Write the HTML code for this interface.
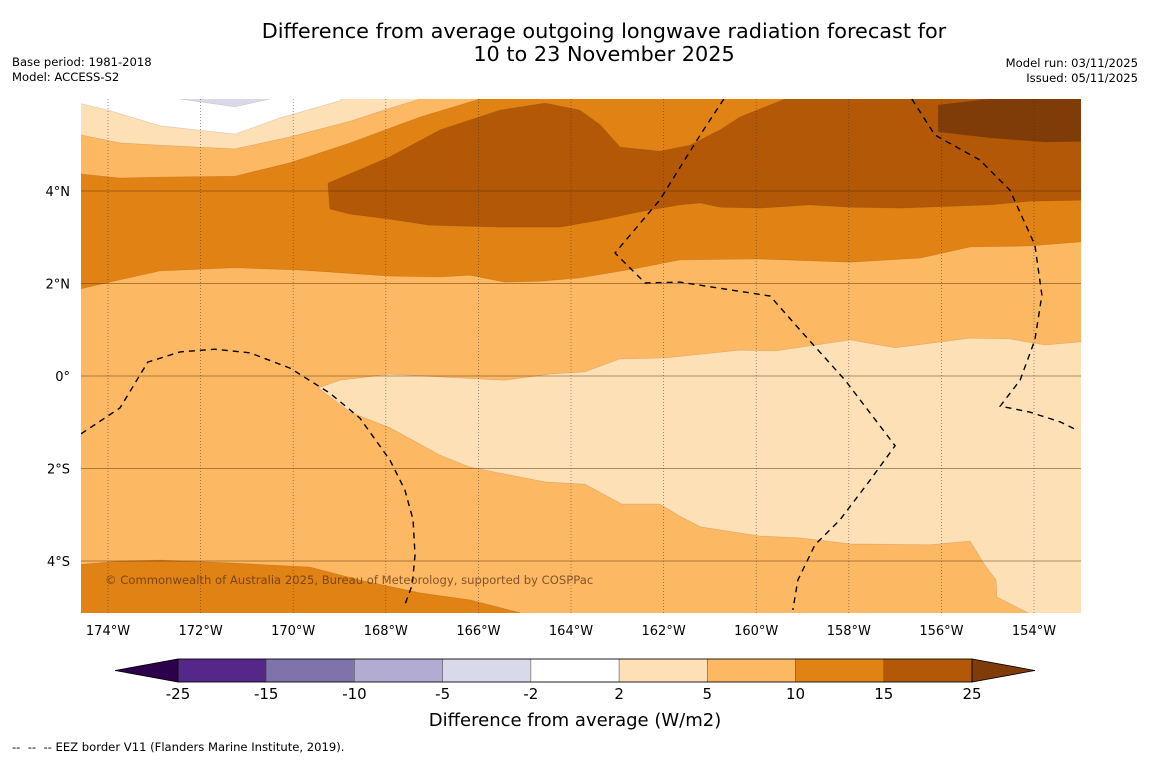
<!DOCTYPE html>
<html><head><meta charset="utf-8"><style>
body{margin:0;background:#fff;font-family:"Liberation Sans","DejaVu Sans",sans-serif;}
svg text{font-family:"DejaVu Sans","Liberation Sans",sans-serif;}
</style></head><body>
<svg id="c" width="1150" height="758" xmlns="http://www.w3.org/2000/svg">
<text x="604" y="38" font-size="20.8" text-anchor="middle">Difference from average outgoing longwave radiation forecast for</text>
<text x="604" y="61" font-size="20.8" text-anchor="middle">10 to 23 November 2025</text>
<text x="12" y="66" font-size="11.6">Base period: 1981-2018</text>
<text x="12" y="81" font-size="11.6">Model: ACCESS-S2</text>
<text x="1138" y="67" font-size="11.6" text-anchor="end">Model run: 03/11/2025</text>
<text x="1138" y="82" font-size="11.6" text-anchor="end">Issued: 05/11/2025</text>
<defs><clipPath id="clip"><rect x="81" y="99" width="1000" height="514"/></clipPath></defs>
<g id="map" clip-path="url(#clip)"></g>
<g id="axes"></g>
<g id="cbar"></g>
<text x="575" y="726" font-size="18" text-anchor="middle">Difference from average (W/m2)</text>
<text x="12" y="751" font-size="11.6" xml:space="preserve">--  --  -- EEZ border V11 (Flanders Marine Institute, 2019).</text>
</svg>
<script>
const lonTicks=[-174,-172,-170,-168,-166,-164,-162,-160,-158,-156,-154];
const latTicks=[4,2,0,-2,-4];
const cbLevels=[-25,-15,-10,-5,-2,2,5,10,15,25];
const cbColors=["#542788","#8073ac","#b2abd2","#d8daeb","#ffffff","#fee0b6","#fdb863","#e08214","#b35806"];
const L=-175,R=-152.5,T=6.2,B=-5.4;
const band10N=[[L,1.79],[-173.74,2.08],[-172.88,2.27],[-171.26,2.34],[-169.85,2.29],[-167.91,2.16],[-166.83,2.14],[-166.18,2.18],[-165.43,2.03],[-164.67,2.05],[-163.81,2.12],[-162.51,2.34],[-161.65,2.51],[-159.92,2.53],[-157.97,2.46],[-156.46,2.55],[-155.38,2.79],[-154.09,2.81],[R,2.94],[R,T],[L,T]];
const band10S=[[L,-4.11],[-173.74,-4.0],[-172.88,-3.98],[-171.36,-4.04],[-169.64,-4.13],[-168.56,-4.41],[-167.26,-4.69],[-166.18,-4.84],[-165.10,-5.12],[-165.0,B],[L,B]];
const band5N=[[L,4.41],[-173.74,4.28],[-172.88,4.30],[-171.26,4.32],[-170.07,4.61],[-168.77,5.04],[-167.26,5.60],[-165.97,5.99],[-165.9,T],[L,T]];
const band2N=[[L,5.30],[-173.74,5.04],[-172.88,4.99],[-171.26,4.91],[-170.07,5.17],[-168.77,5.51],[-167.91,5.79],[-167.26,5.99],[-167.2,T],[L,T]];
const bandW=[[L,5.99],[-174.0,5.75],[-172.88,5.41],[-171.26,5.23],[-170.29,5.58],[-168.99,5.95],[-168.88,T],[L,T]];
const bandLav=[[-172.44,T],[-172.44,5.99],[-171.26,5.82],[-170.50,5.99],[-170.5,T]];
const band2C=[[-169.46,-0.26],[-168.99,-0.09],[-167.91,0.04],[-166.83,-0.02],[-165.43,-0.09],[-164.45,0.04],[-163.70,0.09],[-162.94,0.37],[-161.97,0.39],[-160.35,0.56],[-159.59,0.54],[-157.97,0.78],[-157.0,0.61],[-155.38,0.82],[-154.52,0.80],[-153.76,0.67],[R,0.78],[R,B],[-154.13,B],[-154.13,-5.12],[-154.80,-4.78],[-154.82,-4.41],[-155.06,-4.09],[-155.38,-3.57],[-156.25,-3.65],[-157.97,-3.63],[-159.05,-3.50],[-159.92,-3.46],[-161.21,-3.26],[-161.65,-3.03],[-162.08,-2.77],[-162.90,-2.77],[-163.70,-2.34],[-164.56,-2.29],[-165.32,-2.14],[-166.18,-1.97],[-166.83,-1.71],[-167.91,-1.12],[-168.77,-0.78],[-169.46,-0.26]];
const band15=[[-169.25,4.17],[-167.91,4.74],[-166.83,5.32],[-165.53,5.75],[-164.56,5.90],[-163.81,5.75],[-163.37,5.43],[-162.94,4.95],[-162.08,4.86],[-161.43,4.99],[-160.78,5.32],[-160.35,5.60],[-159.38,5.99],[-159.3,T],[R,T],[R,3.81],[-154.09,3.78],[-154.95,3.70],[-156.89,3.63],[-157.97,3.65],[-158.84,3.70],[-159.92,3.63],[-160.78,3.65],[-161.21,3.74],[-161.65,3.70],[-162.51,3.55],[-163.37,3.37],[-164.24,3.22],[-165.53,3.22],[-167.05,3.26],[-167.91,3.39],[-168.77,3.50],[-169.21,3.61]];
const band25=[[-156.07,5.86],[-154.95,5.99],[-154.9,T],[R,T],[R,5.08],[-153.76,5.06],[-154.95,5.15],[-156.07,5.28]];
const eez1=[[-174.58,-1.25],[-173.74,-0.69],[-173.14,0.30],[-172.44,0.52],[-171.69,0.58],[-170.93,0.50],[-170.07,0.17],[-169.21,-0.37],[-168.56,-0.91],[-167.91,-1.82],[-167.59,-2.46],[-167.41,-3.11],[-167.37,-3.87],[-167.43,-4.52],[-167.61,-5.0]];
const eez2=[[-160.70,5.99],[-161.21,5.21],[-162.08,3.81],[-163.05,2.66],[-162.40,2.01],[-161.65,2.03],[-159.70,1.73],[-159.05,0.99],[-158.08,-0.09],[-157.0,-1.51],[-157.54,-2.25],[-158.19,-3.11],[-158.73,-3.65],[-159.10,-4.41],[-159.21,-5.06]];
const eez3=[[-156.64,5.99],[-156.14,5.21],[-155.17,4.67],[-154.52,4.02],[-153.98,2.83],[-153.83,1.75],[-153.98,0.78],[-154.30,-0.09],[-154.73,-0.65],[-154.09,-0.78],[-153.44,-0.99],[-153.07,-1.17]];
const NS="http://www.w3.org/2000/svg";
const x0=108,pxLon=46.3,y0=376,pxLat=46.25;
const xs=lon=>x0+(lon+174)*pxLon;
const ys=lat=>y0-lat*pxLat;
const pts=a=>a.map(p=>xs(p[0]).toFixed(1)+","+ys(p[1]).toFixed(1)).join(" ");
const map=document.getElementById('map'),axes=document.getElementById('axes'),cb=document.getElementById('cbar');
function mk(tag,at,par){const e=document.createElementNS(NS,tag);for(const k in at)e.setAttribute(k,at[k]);par.appendChild(e);return e;}
const bg=mk('rect',{x:81,y:99,width:1000,height:514,fill:"#fdb863"},map);


const layers=[[band10N,"#e08214","band-10-15-north"],[band10S,"#e08214","band-10-15-south"],[band5N,"#fdb863","band-5-10-northwest"],[band2N,"#fee0b6","band-2-5-northwest"],[bandW,"#ffffff","band-neutral-northwest"],[bandLav,"#d8daeb","band-minus-5-2"],[band2C,"#fee0b6","band-2-5-central"],[band15,"#b35806","band-15-25"],[band25,"#7f3b08","band-over-25"]];
layers.forEach(l=>{const p=mk('polygon',{points:pts(l[0]),fill:l[1],stroke:"rgba(90,50,10,0.2)","stroke-width":0.6},map);

});
lonTicks.forEach(v=>{const g=mk('line',{x1:xs(v),x2:xs(v),y1:99,y2:613,stroke:"#333","stroke-width":0.7,"stroke-dasharray":"1,2","opacity":0.7},map);

});
latTicks.forEach(v=>{const g=mk('line',{x1:81,x2:1081,y1:ys(v),y2:ys(v),stroke:"rgba(80,40,0,0.45)","stroke-width":1},map);

});
[eez1,eez2,eez3].forEach(e=>{const p=mk('polyline',{points:pts(e),fill:"none",stroke:"#000","stroke-width":1.4,"stroke-dasharray":"6,5"},map);

});
const cr=mk('text',{x:105,y:584,"font-size":11.6,fill:"rgba(90,50,20,0.75)"},map);cr.textContent="© Commonwealth of Australia 2025, Bureau of Meteorology, supported by COSPPac";


lonTicks.forEach(v=>{const t=mk('text',{x:xs(v),y:635,"font-size":13,"text-anchor":"middle"},axes);t.textContent=Math.abs(v)+"°W";

});
latTicks.forEach(v=>{const t=mk('text',{x:70,y:ys(v)+5,"font-size":13,"text-anchor":"end"},axes);t.textContent=v===0?"0°":Math.abs(v)+"°"+(v>0?"N":"S");

});
const cbx0=178,cbx1=972,cy=659,ch=23;
const cx=i=>cbx0+i*(cbx1-cbx0)/(cbLevels.length-1);
const tl=mk('polygon',{points:`115,${cy+ch/2} ${cbx0},${cy} ${cbx0},${cy+ch}`,fill:"#2d004b",stroke:"#000","stroke-width":0.8},cb);


cbColors.forEach((c,i)=>{const r=mk('rect',{x:cx(i),y:cy,width:cx(i+1)-cx(i),height:ch,fill:c,stroke:"#555","stroke-width":0.5},cb);

});
const tr=mk('polygon',{points:`1035,${cy+ch/2} ${cbx1},${cy} ${cbx1},${cy+ch}`,fill:"#7f3b08",stroke:"#000","stroke-width":0.8},cb);


const bo=mk('rect',{x:cbx0,y:cy,width:cbx1-cbx0,height:ch,fill:"none",stroke:"#000","stroke-width":0.8},cb);


cbLevels.forEach((v,i)=>{const t=mk('text',{x:cx(i),y:699,"font-size":15,"text-anchor":"middle"},cb);t.textContent=v;

});
</script>
</body></html>
